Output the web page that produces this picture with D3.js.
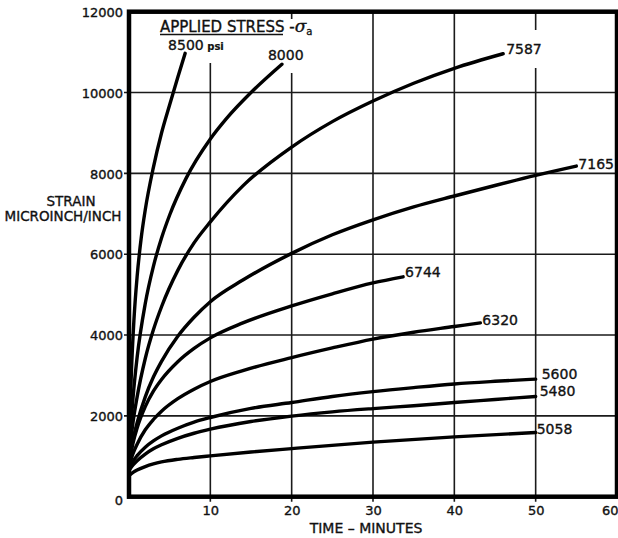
<!DOCTYPE html>
<html><head><meta charset="utf-8">
<script src="https://cdn.jsdelivr.net/npm/d3@7"></script>
<style>
body{margin:0;background:#fff;}
svg text{font-family:"DejaVu Sans",sans-serif;fill:#111;}
</style></head><body>
<svg id="c" width="618" height="538"></svg>
<script>
// ---- data (time in minutes, strain in microinch/inch) ----
const stressLabels = ["8500","8000","7587","7165","6744","6320","5600","5480","5058"];
const curve8500 = [[0,1000],[0.1,1880],[0.3,3100],[0.6,4350],[1,5450],[1.5,6400],[2,7100],[3,8150],[4,9000],[5,9700],[6,10380],[6.9,10970]];
const curve8000 = [[0,1000],[0.5,2460],[1,3450],[2,4780],[3,5700],[4,6400],[5,6970],[7,7870],[10,8850],[12,9360],[15,10000],[18.8,10700]];
const curve7587 = [[0,1000],[0.5,1850],[1,2470],[2,3420],[3,4130],[4,4700],[6,5600],[8,6280],[10,6800],[14,7690],[20,8650],[25,9280],[30,9790],[35,10230],[40,10600],[46,10960]];
const curve7165 = [[0,900],[0.5,1420],[1,1830],[2,2470],[3,2960],[4,3350],[6,3970],[8,4440],[10,4825],[14,5360],[20,6020],[25,6480],[30,6850],[35,7170],[40,7440],[45,7700],[50,7950],[55,8180]];
const curve6744 = [[0,800],[0.5,1330],[1,1700],[2,2230],[3,2610],[4,2900],[6,3340],[8,3670],[10,3930],[14,4300],[20,4720],[25,5020],[30,5290],[33.7,5440]];
const curve6320 = [[0,750],[0.5,1070],[1,1300],[2,1655],[3,1910],[4,2115],[6,2425],[8,2660],[10,2850],[14,3120],[20,3440],[25,3680],[30,3900],[35,4070],[40,4210],[43.2,4300]];
const curve5600 = [[0,700],[0.5,880],[1,1015],[2,1225],[3,1380],[4,1505],[6,1695],[8,1845],[10,1960],[15,2185],[20,2330],[25,2480],[30,2600],[35,2700],[40,2790],[45,2855],[50,2910]];
const curve5480 = [[0,650],[0.5,785],[1,890],[2,1055],[3,1185],[4,1285],[6,1445],[8,1570],[10,1670],[15,1860],[20,1995],[25,2100],[30,2180],[35,2250],[40,2330],[45,2405],[50,2480]];
const curve5058 = [[0,520],[0.5,600],[1,660],[2,745],[3,810],[4,860],[6,925],[8,970],[10,1010],[15,1105],[20,1190],[30,1350],[40,1480],[50,1590]];
const xTicks = [10,20,30,40,50,60];
const yTicks = [0,2000,4000,6000,8000,10000,12000];
const curves = [curve8500,curve8000,curve7587,curve7165,curve6744,curve6320,curve5600,curve5480,curve5058];

// ---- label placement (pixel offsets from curve end) ----
const labelOffsets = [[-17,-3],[-14,-4],[3,0],[2,3],[2,0],[2,2],[6,0],[4,0],[1,2]];

const svg = d3.select("#c");
const x = d3.scaleLinear().domain([0,60]).range([129,617]);
const y = d3.scaleLinear().domain([0,12000]).range([496.7,11.7]);

// grid
const grid = svg.append("g").attr("stroke","#1a1a1a").attr("stroke-width",1.6);
grid.selectAll("line.v").data(xTicks.slice(0,-1)).join("line")
  .attr("x1",d=>x(d)).attr("x2",d=>x(d)).attr("y1",y(12000)).attr("y2",y(0)+5);
grid.selectAll("line.h").data(yTicks.slice(1,-1)).join("line")
  .attr("x1",x(0)-5).attr("x2",x(60)).attr("y1",d=>y(d)).attr("y2",d=>y(d));

// white gaps behind title & top labels
const gaps = [[155,14,130,24],[283,19,34,19],[165,36,60,27],[265,36,47,37],[503,30,42,38]];
svg.append("g").selectAll("rect").data(gaps).join("rect")
  .attr("x",d=>d[0]).attr("y",d=>d[1]).attr("width",d=>d[2]).attr("height",d=>d[3]).attr("fill","#fff");

// axes (ticks + labels)
const yAxis = d3.axisLeft(y).tickValues(yTicks).tickSize(0).tickPadding(5).tickFormat(d3.format("d"));
const gy = svg.append("g").attr("transform",`translate(${x(0)-1},0)`).call(yAxis);
gy.select(".domain").remove();
gy.selectAll("text").attr("font-size",13).attr("font-family","DejaVu Sans").attr("fill","#111")
  .attr("stroke","#111").attr("stroke-width",0.35).attr("dy","0.36em");
gy.selectAll(".tick").filter(d=>d===0).select("text").attr("dy","0.6em");

const xAxis = d3.axisBottom(x).tickValues(xTicks).tickSize(0).tickPadding(9);
const gx = svg.append("g").attr("transform",`translate(0,${y(0)})`).call(xAxis);
gx.select(".domain").remove();
gx.selectAll("text").attr("font-size",13).attr("font-family","DejaVu Sans").attr("fill","#111")
  .attr("stroke","#111").attr("stroke-width",0.35);
gx.selectAll(".tick").filter(d=>d===60).select("text").attr("text-anchor","end").attr("x",1);

// frame
svg.append("rect").attr("x",x(0)).attr("y",y(12000)).attr("width",x(60)-x(0)).attr("height",y(0)-y(12000))
  .attr("fill","none").attr("stroke","#000").attr("stroke-width",4.5);

// curves
const line = d3.line().x(d=>x(d[0])).y(d=>y(d[1])).curve(d3.curveMonotoneX);
svg.append("g").selectAll("path").data(curves).join("path")
  .attr("d",line).attr("fill","none").attr("stroke","#000").attr("stroke-width",3.4)
  .attr("stroke-linecap","round");

// curve labels
const lab = svg.append("g");
curves.forEach((c,i)=>{
  const e = c[c.length-1];
  const t = lab.append("text").attr("x",x(e[0])+labelOffsets[i][0]).attr("y",y(e[1])+labelOffsets[i][1])
    .attr("font-size",14).attr("stroke","#111").attr("stroke-width",0.35).text(stressLabels[i]);
  if(i===0) t.append("tspan").attr("font-size",10).attr("font-weight","bold").attr("stroke-width",0.2).text(" psi");
});

// title
const title = svg.append("text").attr("x",160).attr("y",31.5).attr("font-size",15)
  .attr("stroke","#111").attr("stroke-width",0.35);
title.append("tspan").text("APPLIED STRESS");
title.append("tspan").text(" -");
title.append("tspan").attr("font-style","italic").attr("font-family","DejaVu Serif").attr("font-size",17).text("σ");
title.append("tspan").attr("font-size",10).attr("dy",3).text("a");
svg.append("line").attr("x1",160).attr("x2",283).attr("y1",34.5).attr("y2",34.5)
  .attr("stroke","#111").attr("stroke-width",1.6);

// axis titles
svg.append("text").attr("x",71).attr("y",206).attr("text-anchor","middle").attr("font-size",13.5)
  .attr("stroke","#111").attr("stroke-width",0.35).text("STRAIN");
svg.append("text").attr("x",63).attr("y",221).attr("text-anchor","middle").attr("font-size",13.5)
  .attr("stroke","#111").attr("stroke-width",0.35).text("MICROINCH/INCH");
svg.append("text").attr("x",366).attr("y",533).attr("text-anchor","middle").attr("font-size",14)
  .attr("stroke","#111").attr("stroke-width",0.35).text("TIME – MINUTES");
</script>
</body></html>
